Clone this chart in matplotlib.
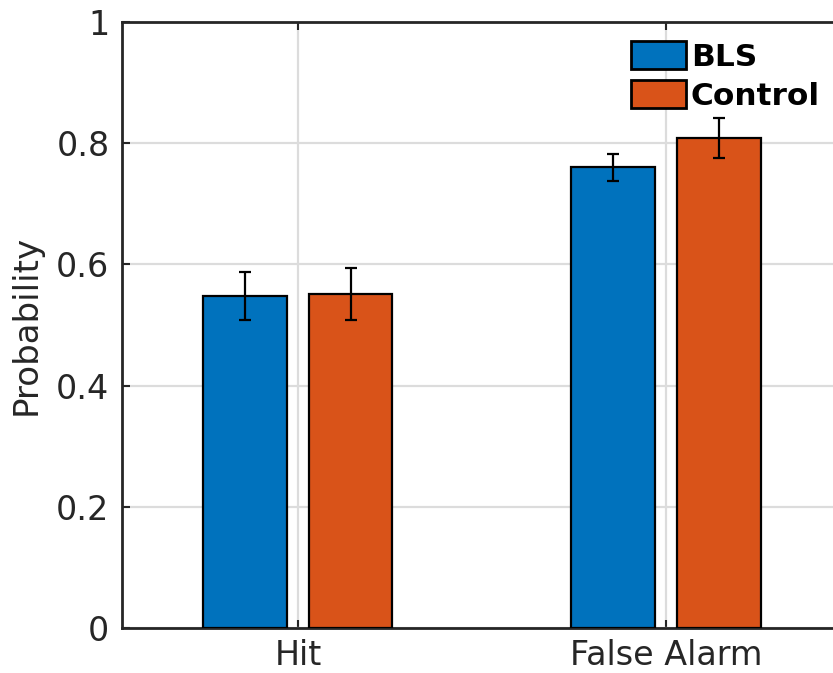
import numpy as np
import matplotlib
matplotlib.use("Agg")
import matplotlib.pyplot as plt

# hodnoty
kategorie = ["Hit", "False Alarm"]
bls = [0.548, 0.760]
bls_err = [0.040, 0.022]
control = [0.551, 0.809]
control_err = [0.043, 0.033]
yticks = [0, 0.2, 0.4, 0.6, 0.8, 1]
ytick_labels = ["0", "0.2", "0.4", "0.6", "0.8", "1"]

modra = "#0072BD"
oranzova = "#D95319"
tmava = "#262626"

fig = plt.figure(figsize=(8.33, 6.73), dpi=100)
ax = fig.add_axes([122 / 833, 45 / 673, (833 - 122) / 833, 606 / 673])

x = np.arange(1, len(kategorie) + 1)
sirka = 0.228
posun = 0.143

ax.bar(x - posun, bls, sirka, color=modra, edgecolor="black", linewidth=1.6, label="BLS", zorder=3)
ax.bar(x + posun, control, sirka, color=oranzova, edgecolor="black", linewidth=1.6, label="Control", zorder=3)
ax.errorbar(x - posun, bls, yerr=bls_err, fmt="none", ecolor="black", elinewidth=1.6, capsize=4, capthick=1.6, zorder=4)
ax.errorbar(x + posun, control, yerr=control_err, fmt="none", ecolor="black", elinewidth=1.6, capsize=4, capthick=1.6, zorder=4)

ax.set_xlim(0.522, 2.454)
ax.set_ylim(0, 1)
ax.set_xticks(x)
ax.set_xticklabels(kategorie)
ax.set_yticks(yticks)
ax.set_yticklabels(ytick_labels)

ax.grid(True, color="#dcdcdc", linewidth=1.6, zorder=0)
ax.set_axisbelow(True)

for strana in ["left", "bottom", "top"]:
    ax.spines[strana].set_color(tmava)
    ax.spines[strana].set_linewidth(2)
ax.spines["right"].set_visible(False)

ax.tick_params(axis="both", direction="in", length=6, width=1.5, color=tmava,
               labelsize=24, labelcolor=tmava, top=True)
ax.tick_params(axis="y", pad=9)
ax.tick_params(axis="x", pad=8)
ax.set_ylabel("Probability", fontsize=24.5, color=tmava, labelpad=10)

leg = ax.legend(loc="upper left", bbox_to_anchor=(631 / 833, 1 - 41 / 673),
                bbox_transform=fig.transFigure, frameon=False,
                prop={"weight": "bold", "size": 22.5}, handlelength=1.75, handleheight=1.0,
                handletextpad=0.16, labelspacing=0.27, borderpad=0, borderaxespad=0)
for h in leg.legend_handles:
    h.set_linewidth(2)

fig.savefig("out.png", dpi=100)
